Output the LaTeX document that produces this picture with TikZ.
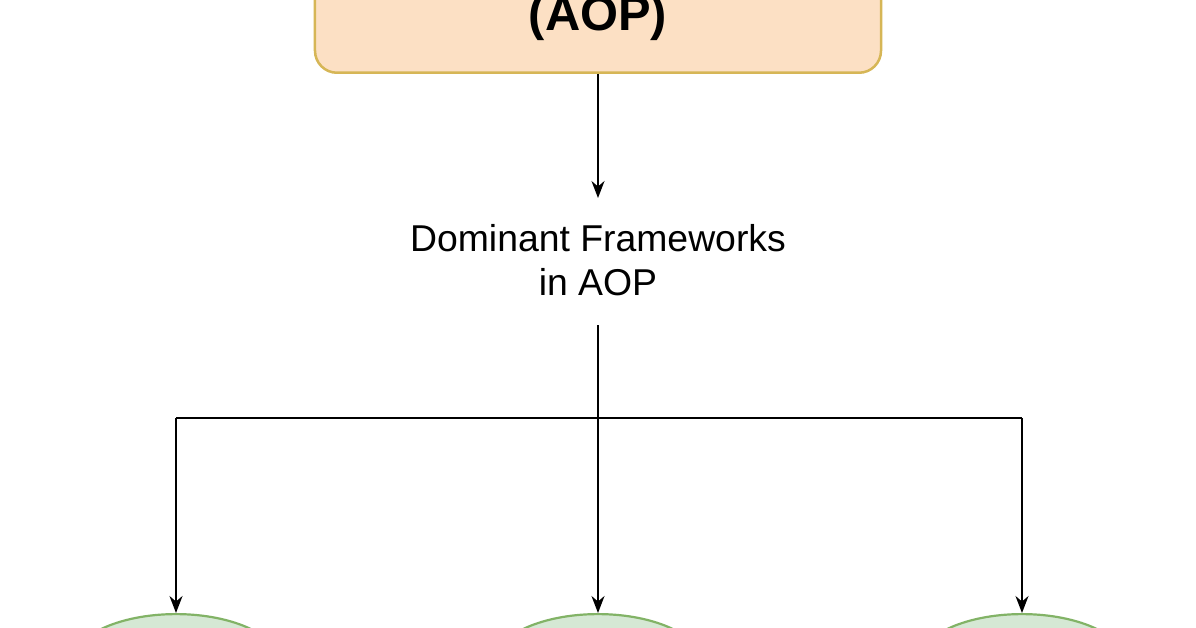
\documentclass[tikz,border=0pt]{standalone}
\usepackage{fontspec}
\setmainfont{Liberation Sans}
\usetikzlibrary{arrows.meta,shapes.geometric}
\definecolor{peach}{HTML}{FCE0C4}
\definecolor{gold}{HTML}{D6B656}
\definecolor{lgreen}{HTML}{D5E8D4}
\definecolor{dgreen}{HTML}{82B366}
\begin{document}
\begin{tikzpicture}[x=1bp,y=-1bp,
  conn/.style={line width=1.8bp,draw=black},
  arr/.style={conn,-{Stealth[length=17bp,width=13bp]}},
  leaf/.style={ellipse,draw=dgreen,fill=lgreen,line width=2.2bp,minimum width=210bp,minimum height=100bp}]
\useasboundingbox (0,0) rectangle (1196,628);
\clip (0,0) rectangle (1196,628);
\fill[white] (0,0) rectangle (1196,628);
\node[draw=gold,fill=peach,line width=2.5bp,rounded corners=22bp,minimum width=566bp,minimum height=160bp,anchor=south,inner sep=0pt] (top) at (598,74) {};
\node[font=\fontsize{49}{55}\selectfont\bfseries] (aop) at (598,18) {(AOP)};
\node[align=center,font=\fontsize{37.5}{44}\selectfont,inner sep=0pt] (dom) at (598,260) {Dominant Frameworks\\in AOP};
\coordinate (ds) at (598,198);
\coordinate (j) at (598,418);
\coordinate (jl) at (176,418);
\coordinate (jr) at (1022,418);
\node[leaf,anchor=north] (e1) at (176,613) {};
\node[leaf,anchor=north] (e2) at (598,613) {};
\node[leaf,anchor=north] (e3) at (1022,613) {};
\draw[arr] (top.south) -- (ds);
\draw[conn] (598,325) -- (j);
\draw[conn] (jl) -- (jr);
\draw[arr] (jl) -- (e1.north);
\draw[arr] (j) -- (e2.north);
\draw[arr] (jr) -- (e3.north);
\end{tikzpicture}
\end{document}
